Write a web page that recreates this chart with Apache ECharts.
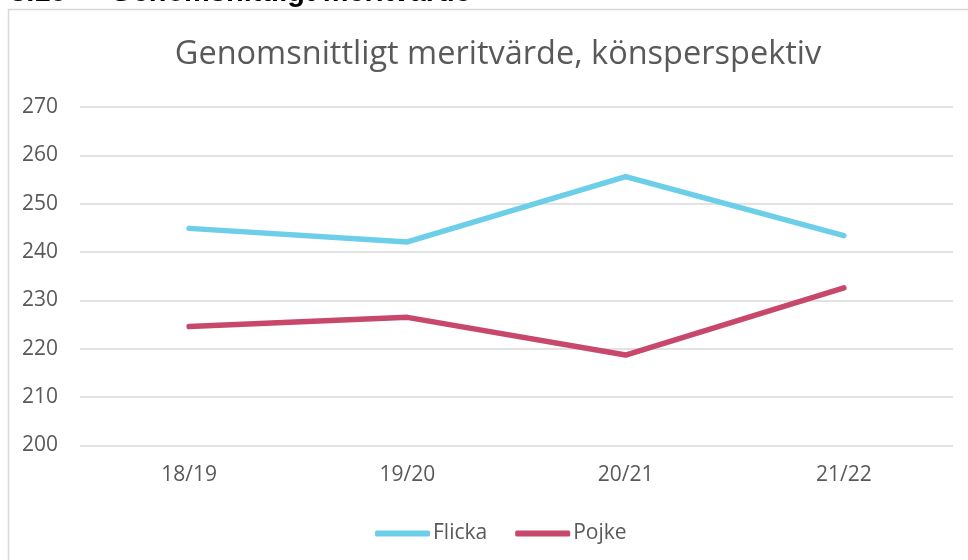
<!DOCTYPE html>
<html>
    <head>
        <meta charset="utf-8" />
        <script src="https://cdn.jsdelivr.net/npm/echarts@6/dist/echarts.min.js"></script>
    </head>
    <body style="margin: 0">
        <style>
            html,
            body,
            #main {
                width: 968px;
                height: 560px;
                background: #fff;
            }
        </style>
        <div id="main"></div>
        <script>
            var years = ["18/19", "19/20", "20/21", "21/22"];
            var flicka = [244.9, 242.1, 255.6, 243.4];
            var pojke = [224.6, 226.5, 218.7, 232.6];
            var yTicks = [200, 210, 220, 230, 240, 250, 260, 270];

            var font = "'Open Sans', sans-serif";
            var textColor = "#595959";

            var chart = echarts.init(document.getElementById("main"), null, {
                renderer: "canvas",
            });

            chart.setOption({
                animation: false,
                backgroundColor: "#fff",
                textStyle: { fontFamily: font },
                graphic: [
                    // frame of the chart box, runs off the right and bottom edge
                    {
                        type: "rect",
                        shape: { x: 8.5, y: 9.5, width: 1000, height: 600 },
                        style: { fill: "none", stroke: "#d9d9d9", lineWidth: 1.5 },
                        silent: true,
                    },
                    // document heading, cut off at the top
                    {
                        type: "text",
                        x: 10,
                        y: -7,
                        style: {
                            text: "3.10",
                            font: "bold 29px 'Liberation Sans', Arial, sans-serif",
                            fill: "#000",
                            verticalAlign: "middle",
                        },
                    },
                    {
                        type: "text",
                        x: 110,
                        y: -7,
                        style: {
                            text: "Genomsnittligt meritvärde",
                            font: "bold 29px 'Liberation Sans', Arial, sans-serif",
                            fill: "#000",
                            verticalAlign: "middle",
                        },
                    },
                ],
                title: {
                    text: "Genomsnittligt meritvärde, könsperspektiv",
                    left: 493,
                    textAlign: "center",
                    top: 33,
                    textStyle: {
                        fontFamily: font,
                        fontSize: 32.5,
                        fontWeight: "normal",
                        color: textColor,
                    },
                },
                legend: {
                    bottom: 11,
                    left: 370,
                    itemWidth: 55,
                    itemHeight: 6,
                    itemGap: 28,
                    icon: "roundRect",
                    textStyle: {
                        fontFamily: font,
                        fontSize: 21,
                        color: textColor,
                        padding: [0, 0, 0, -2],
                    },
                    data: ["Flicka", "Pojke"],
                },
                grid: {
                    left: 80,
                    right: 15,
                    top: 107,
                    bottom: 114.5,
                },
                xAxis: {
                    type: "category",
                    data: years,
                    boundaryGap: true,
                    axisLine: { show: false },
                    axisTick: { show: false },
                    axisLabel: {
                        margin: 19,
                        fontFamily: font,
                        fontSize: 21,
                        color: textColor,
                    },
                },
                yAxis: {
                    type: "value",
                    min: yTicks[0],
                    max: yTicks[yTicks.length - 1],
                    interval: 10,
                    axisLine: { show: false },
                    axisTick: { show: false },
                    axisLabel: {
                        margin: 22,
                        fontFamily: font,
                        fontSize: 21,
                        color: textColor,
                    },
                    splitLine: {
                        lineStyle: { color: "#d9d9d9", width: 1.5 },
                    },
                },
                series: [
                    {
                        name: "Flicka",
                        type: "line",
                        data: flicka,
                        showSymbol: false,
                        color: "#6DCEEA",
                        lineStyle: { width: 5.5, cap: "round", join: "round" },
                    },
                    {
                        name: "Pojke",
                        type: "line",
                        data: pojke,
                        showSymbol: false,
                        color: "#C8486C",
                        lineStyle: { width: 5.5, cap: "round", join: "round" },
                    },
                ],
            });
        </script>
    </body>
</html>
